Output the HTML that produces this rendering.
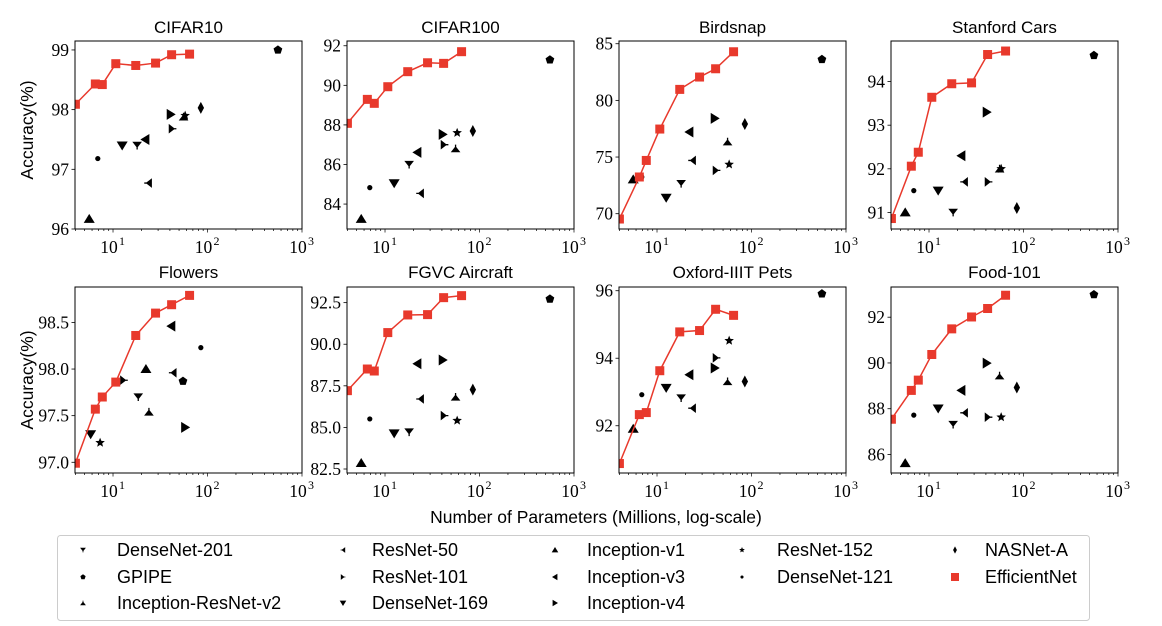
<!DOCTYPE html>
<html><head><meta charset="utf-8"><style>
html,body{margin:0;padding:0;background:#fff;}
svg{display:block;}
</style></head><body>
<svg id="fig" width="1162" height="626" viewBox="0 0 1162 626" xmlns="http://www.w3.org/2000/svg"></svg>
<script>
const models = ['DenseNet-201','GPIPE','Inception-ResNet-v2','ResNet-50','ResNet-101','DenseNet-169','Inception-v1','Inception-v3','Inception-v4','ResNet-152','DenseNet-121','NASNet-A'];
const modelMarkers = ['tridown','pent','triup','trileft','triright','v','^','<','>','star','dot','diamond'];
const modelParams = [18,556,55.8,23.6,42.5,12.5,5.6,22,40.8,58,6.9,85];
const flowersParams = [18.5,55,24,43,13,5.8,22.3,41.4,58,7.3,85,null];
const effParams = [4,6.5,7.7,10.7,17.4,28.2,41.7,64.6];
const titles = ['CIFAR10','CIFAR100','Birdsnap','Stanford Cars','Flowers','FGVC Aircraft','Oxford-IIIT Pets','Food-101'];
const accCifar10 = [97.4,99.0,97.88,96.77,97.68,97.4,96.17,97.5,97.92,97.9,97.18,98.03];
const accCifar100 = [86.0,91.29,86.8,84.54,87.0,85.05,83.25,86.61,87.52,87.6,84.83,87.69];
const accBirdsnap = [72.65,83.62,76.35,74.7,73.82,71.41,73.03,77.21,78.41,74.35,73.24,77.91];
const accCars = [91.0,94.6,92.0,91.7,91.7,91.5,91.0,92.3,93.3,92.0,91.5,91.1];
const accFlowers = [97.7,97.87,97.54,97.96,97.88,97.3,98.0,98.46,97.375,97.21,98.23,null];
const accFGVC = [84.72,92.72,86.83,86.71,85.71,84.64,82.86,88.83,89.05,85.41,85.51,87.27];
const accPets = [92.82,95.91,93.31,92.52,94.01,93.12,91.91,93.51,93.71,94.52,92.92,93.31];
const accFood = [87.31,92.99,89.44,87.82,87.63,88.01,85.62,88.8,89.99,87.63,87.72,88.93];
const effCifar10 = [98.09,98.43,98.42,98.77,98.74,98.78,98.92,98.93];
const effCifar100 = [88.08,89.29,89.09,89.93,90.69,91.14,91.11,91.7];
const effBirdsnap = [69.53,73.24,74.7,77.47,80.97,82.06,82.79,84.29];
const effCars = [90.86,92.06,92.38,93.64,93.95,93.97,94.62,94.70];
const effFlowers = [96.99,97.57,97.7,97.86,98.36,98.6,98.69,98.79];
const effFGVC = [87.21,88.51,88.39,90.7,91.76,91.78,92.8,92.92];
const effPets = [90.88,92.33,92.39,93.63,94.78,94.82,95.45,95.27];
const effFood = [87.54,88.8,89.25,90.37,91.49,92.01,92.38,92.96];
const yTicks0 = [96,97,98,99];
const yTicks1 = [84,86,88,90,92];
const yTicks2 = [70,75,80,85];
const yTicks3 = [91,92,93,94];
const yTicks4 = [97.0,97.5,98.0,98.5];
const yTicks5 = [82.5,85.0,87.5,90.0,92.5];
const yTicks6 = [92,94,96];
const yTicks7 = [86,88,90,92];

const allAcc=[accCifar10,accCifar100,accBirdsnap,accCars,accFlowers,accFGVC,accPets,accFood];
const allEff=[effCifar10,effCifar100,effBirdsnap,effCars,effFlowers,effFGVC,effPets,effFood];
const allTicks=[yTicks0,yTicks1,yTicks2,yTicks3,yTicks4,yTicks5,yTicks6,yTicks7];
const yDomains=[[96,99.15],[82.74,92.24],[68.65,85.24],[90.62,94.93],[96.885,98.88],[82.26,93.44],[90.6,96.11],[85.19,93.32]];
const decs=[0,0,0,0,1,1,0,0];
const NS='http://www.w3.org/2000/svg';
const svg=document.getElementById('fig');
const RED='#e8392c';
function mk(tag,attrs,parent){const e=document.createElementNS(NS,tag);for(const k in attrs)e.setAttribute(k,attrs[k]);(parent||svg).appendChild(e);return e;}

function marker(g,type,cx,cy,color){
  let e;
  const P=pts=>pts.map(p=>(cx+p[0]).toFixed(2)+','+(cy+p[1]).toFixed(2)).join(' ');
  if(type==='sq'){e=mk('rect',{x:cx-4.5,y:cy-4.5,width:9,height:9,fill:color},g);}
  else if(type==='dot'){e=mk('circle',{cx:cx,cy:cy,r:2.6,fill:color},g);}
  else if(type==='pent'){const p=[];for(let i=0;i<5;i++){const a=-Math.PI/2+i*2*Math.PI/5;p.push([4.6*Math.cos(a),4.6*Math.sin(a)]);}e=mk('polygon',{points:P(p),fill:color},g);}
  else if(type==='star'){const p=[];for(let i=0;i<10;i++){const a=-Math.PI/2+i*Math.PI/5;const r=i%2?2.2:5;p.push([r*Math.cos(a),r*Math.sin(a)]);}e=mk('polygon',{points:P(p),fill:color},g);}
  else if(type==='diamond'){e=mk('polygon',{points:P([[0,-6],[3.2,0],[0,6],[-3.2,0]]),fill:color},g);}
  else if(type==='v'){e=mk('polygon',{points:P([[-5.5,-4],[5.5,-4],[0,5]]),fill:color},g);}
  else if(type==='^'){e=mk('polygon',{points:P([[-5.5,4],[5.5,4],[0,-5]]),fill:color},g);}
  else if(type==='<'){e=mk('polygon',{points:P([[4,-5.5],[4,5.5],[-5,0]]),fill:color},g);}
  else if(type==='>'){e=mk('polygon',{points:P([[-4,-5.5],[-4,5.5],[5,0]]),fill:color},g);}
  else if(type==='tridown'){e=mk('path',{d:`M${P([[-3.5,-3]])}L${P([[3.5,-3]])}L${P([[0,1.5]])}Z M${P([[0,0]])}L${P([[0,4]])}`,fill:color,stroke:color,'stroke-width':1.3},g);}
  else if(type==='triup'){e=mk('path',{d:`M${P([[-3.5,3]])}L${P([[3.5,3]])}L${P([[0,-1.5]])}Z M${P([[0,0]])}L${P([[0,-4]])}`,fill:color,stroke:color,'stroke-width':1.3},g);}
  else if(type==='trileft'){e=mk('path',{d:`M${P([[3,-3.5]])}L${P([[3,3.5]])}L${P([[-1.5,0]])}Z M${P([[0,0]])}L${P([[-4,0]])}`,fill:color,stroke:color,'stroke-width':1.3},g);}
  else if(type==='triright'){e=mk('path',{d:`M${P([[-3,-3.5]])}L${P([[-3,3.5]])}L${P([[1.5,0]])}Z M${P([[0,0]])}L${P([[4,0]])}`,fill:color,stroke:color,'stroke-width':1.3},g);}
  return e;
}

const lefts=[75,347,619,891];
const W=227, XMIN=3.96, XMAX=1000;
for(let p=0;p<8;p++){
  const L=lefts[p%4], T=p<4?41:287, B=p<4?229:473;
  const [y0,y1]=yDomains[p];
  const xs=v=>L+(Math.log10(v)-Math.log10(XMIN))/(Math.log10(XMAX)-Math.log10(XMIN))*W;
  const ys=v=>B-(v-y0)/(y1-y0)*(B-T);
  const g=mk('g',{});
  
  
  const cp=mk('clipPath',{id:'cp'+p},g);
  mk('rect',{x:L,y:T,width:W,height:B-T},cp);
  const t=mk('text',{x:L+W/2,y:p<4?33:278,'text-anchor':'middle','font-family':'Liberation Sans, sans-serif','font-size':17,fill:'#000'},g);
  t.textContent=titles[p];
  
  
  allTicks[p].forEach(v=>{
    const y=ys(v);
    mk('line',{x1:L-3.5,x2:L,y1:y,y2:y,stroke:'#000','stroke-width':0.8},g);
    const tl=mk('text',{x:L-6,y:y+6,'text-anchor':'end','font-family':'Liberation Serif, serif','font-size':17.5,fill:'#000'},g);
    tl.textContent=v.toFixed(decs[p]);
    
    
  });
  for(let d=0;d<3;d++){for(let m=1;m<=9;m++){const v=m*Math.pow(10,d);if(v<XMIN||v>XMAX)continue;const x=xs(v);mk('line',{x1:x,x2:x,y1:B,y2:B+(m===1?3.5:2),stroke:'#000','stroke-width':0.7},g);}}
  mk('line',{x1:xs(1000),x2:xs(1000),y1:B,y2:B+3.5,stroke:'#000','stroke-width':0.7},g);
  [1,2,3].forEach(e=>{
    const x=xs(Math.pow(10,e));
    const tl=mk('text',{x:x-4,y:B+24,'text-anchor':'middle','font-family':'Liberation Serif, serif','font-size':17.5,fill:'#000'},g);
    tl.textContent='10';
    
    
    const sp=mk('text',{x:x+6,y:B+16,'font-family':'Liberation Serif, serif','font-size':12,fill:'#000'},g);
    sp.textContent=String(e);
    
    
  });
  const mg=mk('g',{'clip-path':`url(#cp${p})`},g);
  
  
  const acc=allAcc[p];
  for(let i=0;i<models.length;i++){
    const px=(p===4?flowersParams:modelParams)[i];
    if(acc[i]==null||px==null)continue;
    const m=marker(mg,modelMarkers[i],xs(px),ys(acc[i]),'#000');
    
    
  }
  const eg=mk('g',{'clip-path':`url(#cp${p})`},g);
  
  
  const eff=allEff[p];
  const pl=mk('polyline',{points:eff.map((v,i)=>xs(effParams[i]).toFixed(2)+','+ys(v).toFixed(2)).join(' '),fill:'none',stroke:RED,'stroke-width':1.5},eg);
  
  
  eff.forEach((v,i)=>{
    const m=marker(eg,'sq',xs(effParams[i]),ys(v),RED);
    
    
  });
  const fr=mk('rect',{x:L,y:T,width:W,height:B-T,fill:'none',stroke:'#000','stroke-width':1},g);
  
  
}
[[130],[380]].forEach((c,i)=>{
  const t=mk('text',{x:0,y:0,transform:`translate(33,${c[0]}) rotate(-90)`,'text-anchor':'middle','font-family':'Liberation Sans, sans-serif','font-size':17.5,fill:'#000'});
  t.textContent='Accuracy(%)';
  
  
});
const xl=mk('text',{x:596,y:523,'text-anchor':'middle','font-family':'Liberation Sans, sans-serif','font-size':17.5,fill:'#000'});
xl.textContent='Number of Parameters (Millions, log-scale)';



const lg=mk('g',{});


mk('rect',{x:57.5,y:535.5,width:1032,height:85,rx:3,fill:'#fff',stroke:'#cccccc','stroke-width':1},lg);
const legOrder=[[0,1,2],[3,4,5],[6,7,8],[9,10],[11,12]];
const legText=[117,372,587,777,985];
const legMark=[83,343,555,742,955];
const rowsY=[550,577,603];
legOrder.forEach((col,ci)=>{
  col.forEach((idx,ri)=>{
    const eg=mk('g',{},lg);
    
    
    const name=idx<12?models[idx]:'EfficientNet';
    const type=idx<12?modelMarkers[idx]:'sq';
    const mm=marker(eg,type,legMark[ci],rowsY[ri],idx<12?'#000':RED);
    if(type==='sq'){mm.setAttribute('x',legMark[ci]-4);mm.setAttribute('y',rowsY[ri]-4);mm.setAttribute('width',8);mm.setAttribute('height',8);}
    else mm.setAttribute('transform',`translate(${legMark[ci]},${rowsY[ri]}) scale(0.6) translate(${-legMark[ci]},${-rowsY[ri]})`);
    
    
    const tt=mk('text',{x:legText[ci],y:rowsY[ri]+6,'font-family':'Liberation Sans, sans-serif','font-size':18,fill:'#000'},eg);
    tt.textContent=name;
    
    
  });
});
</script>
</body></html>
